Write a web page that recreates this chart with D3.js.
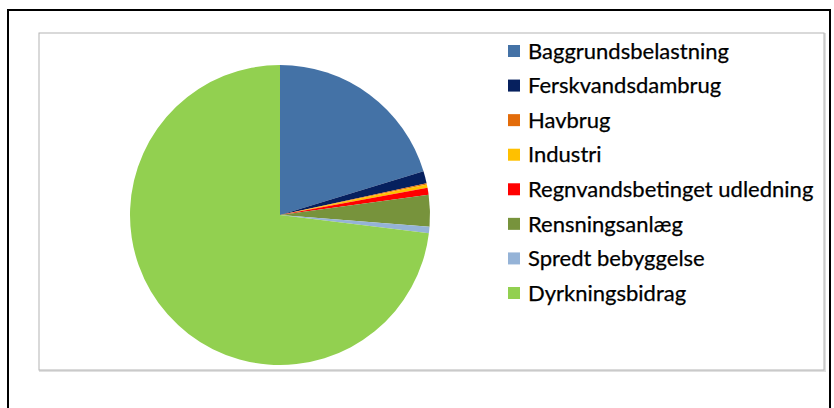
<!DOCTYPE html>
<html>
<head>
<meta charset="utf-8">
<script src="https://cdn.jsdelivr.net/npm/d3@7"></script>
<style>
    body { margin: 0; background: #fff; }
    svg { display: block; }
</style>
</head>
<body>
<div id="chart"></div>
<script>

    // data (share of total, %)
    const categories = ["Baggrundsbelastning", "Ferskvandsdambrug", "Havbrug", "Industri",
        "Regnvandsbetinget udledning", "Rensningsanlæg", "Spredt bebyggelse", "Dyrkningsbidrag"];
    const values = [20.3, 1.3, 0.15, 0.35, 0.75, 3.4, 0.7, 73.05];
    const colors = ["#4472a6", "#06205e", "#e36c0a", "#ffc000", "#ff0000", "#77933c", "#95b3d7", "#92d050"];

    const width = 834, height = 408;

    const svg = d3.select("#chart").append("svg")
        .attr("width", width).attr("height", height);

    // outer page frame
    svg.append("rect")
        .attr("x", 8).attr("y", 10).attr("width", 822).attr("height", 420)
        .attr("fill", "none").attr("stroke", "#000").attr("stroke-width", 2);

    // chart area box with a faint shadow
    svg.append("rect")
        .attr("x", 40).attr("y", 34).attr("width", 785).attr("height", 337)
        .attr("fill", "none").attr("stroke", "#e0e0e0").attr("stroke-width", 2);
    svg.append("rect")
        .attr("x", 39).attr("y", 33).attr("width", 785).attr("height", 337)
        .attr("fill", "#fff").attr("stroke", "#b4b4b4").attr("stroke-width", 1);

    const pie = d3.pie().sort(null).value(d => d.value);
    const arc = d3.arc().innerRadius(0).outerRadius(150);
    const color = d3.scaleOrdinal().domain(categories).range(colors);

    const rows = categories.map((c, i) => ({ name: c, value: values[i] }));

    const g = svg.append("g").attr("transform", "translate(280,215)");
    g.selectAll("path").data(pie(rows)).enter().append("path")
        .attr("d", arc)
        .attr("fill", d => color(d.data.name));

    // legend
    const y = d3.scalePoint().domain(categories).range([51, 293]);
    const legend = svg.append("g");
    const items = legend.selectAll("g").data(categories).enter().append("g")
        .attr("transform", d => "translate(508," + y(d) + ")");
    items.append("rect")
        .attr("x", 0).attr("y", -6).attr("width", 12).attr("height", 12)
        .attr("fill", d => color(d));
    items.append("text")
        .attr("x", 20).attr("y", 0).attr("dy", "0.35em")
        .attr("font-family", "Lato, 'Open Sans', sans-serif")
        .attr("font-size", 22)
        .attr("fill", "#000")
        .attr("stroke", "#000").attr("stroke-width", 0.25)
        .text(d => d);

</script>
</body>
</html>
